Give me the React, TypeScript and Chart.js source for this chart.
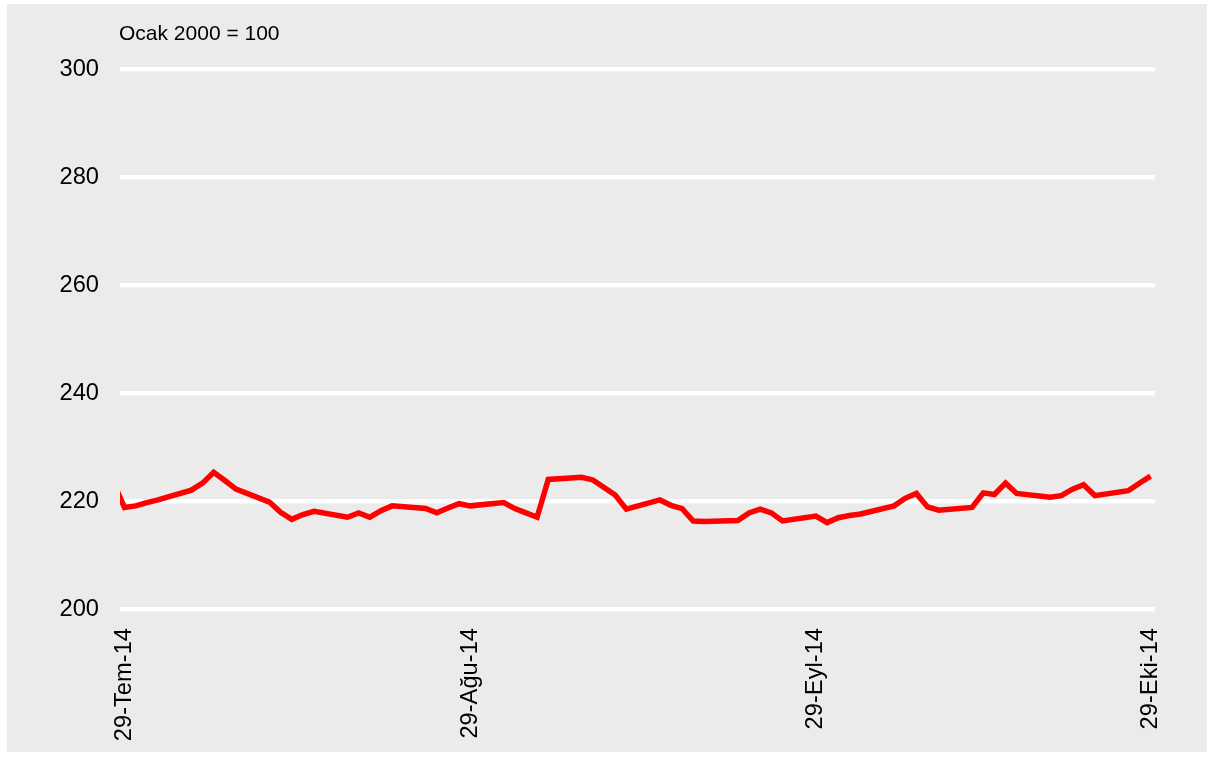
import React, { useEffect, useRef } from "react";
import { Chart, registerables } from "chart.js";

Chart.register(...registerables);

// Days since 29 July 2014 (business days; weekends bridged by straight segments)
const dayOffsets = [
  -1, 0, 1, 2, 3,
  6, 7, 8, 9, 10,
  13, 14, 15, 16, 17,
  20, 21, 22, 23, 24,
  27, 28, 29, 30, 31,
  34, 35, 36, 37, 38,
  41, 42, 43, 44, 45,
  48, 49, 50, 51, 52,
  55, 56, 57, 58, 59,
  62, 63, 64, 65, 66,
  69, 70, 71, 72, 73,
  76, 77, 78, 79, 80,
  83, 84, 85, 86, 87,
  90, 91, 92,
];

const indexValues = [
  223.5, 218.8, 219.1, 219.7, 220.2,
  222.0, 223.3, 225.3, 223.8, 222.2,
  219.8, 217.9, 216.6, 217.5, 218.1,
  217.0, 217.8, 217.0, 218.2, 219.1,
  218.6, 217.8, 218.7, 219.5, 219.1,
  219.7, 218.6, 217.8, 217.0, 224.0,
  224.4, 223.9, 222.5, 221.1, 218.5,
  220.2, 219.2, 218.6, 216.3, 216.2,
  216.4, 217.8, 218.5, 217.8, 216.3,
  217.2, 216.0, 216.9, 217.3, 217.6,
  219.1, 220.5, 221.4, 218.9, 218.3,
  218.8, 221.5, 221.2, 223.3, 221.4,
  220.7, 221.0, 222.2, 223.0, 221.0,
  221.9, 223.3, 224.6,
];

const tickDays = [0, 31, 62, 92];
const tickLabels = ["29-Tem-14", "29-Ağu-14", "29-Eyl-14", "29-Eki-14"];
const yTickValues = [200, 220, 240, 260, 280, 300];
const unitNote = "Ocak 2000 = 100";

const FONT = "'Liberation Sans', Arial, Helvetica, sans-serif";

export default function App() {
  const ref = useRef<HTMLCanvasElement | null>(null);

  useEffect(() => {
    if (!ref.current) return;
    const notePlugin = {
      id: "unitNote",
      afterDraw(chart: any) {
        const c = chart.ctx;
        c.save();
        c.font = `21px ${FONT}`;
        c.fillStyle = "#000000";
        c.textAlign = "left";
        c.textBaseline = "alphabetic";
        c.fillText(unitNote, chart.chartArea.left - 1, chart.chartArea.top - 29);
        c.restore();
      },
    };

    const chart = new Chart(ref.current, {
      type: "line",
      data: {
        datasets: [
          {
            data: dayOffsets.map((d, i) => ({ x: d, y: indexValues[i] })),
            borderColor: "#ff0000",
            backgroundColor: "#ff0000",
            borderWidth: 5.5,
            pointRadius: 0,
            tension: 0,
            fill: false,
          },
        ],
      },
      options: {
        animation: false,
        responsive: false,
        layout: { padding: { top: 65, right: 52, left: 0, bottom: 0 } },
        plugins: {
          legend: { display: false },
          tooltip: { enabled: false },
        },
        scales: {
          x: {
            type: "linear",
            min: -0.4,
            max: 92.4,
            grid: { display: false, drawTicks: false },
            border: { display: false },
            afterBuildTicks: (s: any) => {
              s.ticks = tickDays.map((v) => ({ value: v }));
            },
            afterFit: (s: any) => {
              s.height = 143;
            },
            ticks: {
              autoSkip: false,
              maxRotation: 90,
              minRotation: 90,
              padding: 19,
              color: "#000000",
              font: { family: FONT, size: 23.7 },
              callback: (v: any) => {
                const i = tickDays.indexOf(Number(v));
                return i >= 0 ? tickLabels[i] : "";
              },
            },
          },
          y: {
            min: 200,
            max: 300,
            afterBuildTicks: (s: any) => {
              s.ticks = yTickValues.map((v) => ({ value: v }));
            },
            afterFit: (s: any) => {
              s.width = 113;
            },
            grid: { color: "#ffffff", lineWidth: 4.5, drawTicks: false },
            border: { display: false },
            ticks: {
              padding: 21,
              color: "#000000",
              font: { family: FONT, size: 23.7 },
            },
          },
        },
      },
      plugins: [notePlugin],
    } as any);

    return () => chart.destroy();
  }, []);

  return (
    <div
      style={{
        position: "absolute",
        left: 7,
        top: 4,
        width: 1200,
        height: 748,
        background: "#ebebeb",
      }}
    >
      <canvas ref={ref} width={1200} height={748} style={{ display: "block" }} />
    </div>
  );
}
